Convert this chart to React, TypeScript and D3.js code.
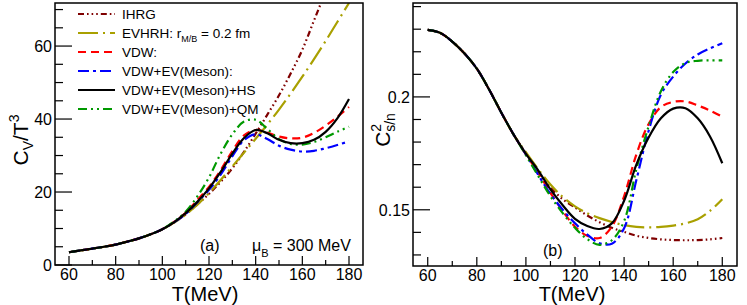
import React from "react";
import * as d3 from "d3";

// temperatures (MeV) at which curves were read
const temps = [60, 65, 70, 75, 80, 85, 90, 95, 100, 105, 110, 115, 120, 125, 130, 135, 140, 145, 150, 155, 160, 165, 170, 175, 180];

// panel (a): C_V / T^3
const cvIHRG = [3.5, 4.0, 4.5, 5.0, 5.6, 6.4, 7.3, 8.4, 9.8, 11.6, 13.9, 16.6, 19.5, 22.8, 26.5, 31.0, 36.0, 41.2, 46.5, 52.5, 59.0, 67.0, 75.0, 83.0, 91.0];
const cvEVHRH = [3.5, 4.0, 4.5, 5.0, 5.6, 6.4, 7.3, 8.4, 9.8, 11.6, 13.8, 16.5, 19.7, 23.3, 27.0, 30.8, 34.6, 38.5, 42.6, 47.0, 51.6, 56.4, 61.4, 66.6, 71.8];
const cvVDW = [3.5, 4.0, 4.5, 5.0, 5.6, 6.4, 7.3, 8.4, 9.8, 11.8, 14.3, 17.8, 21.4, 26.0, 31.2, 35.5, 37.0, 36.3, 35.2, 34.7, 34.9, 36.2, 38.2, 40.6, 43.3];
const cvEV = [3.5, 4.0, 4.5, 5.0, 5.6, 6.4, 7.3, 8.4, 9.8, 11.7, 14.0, 17.2, 20.6, 24.8, 29.8, 34.2, 35.8, 34.5, 32.7, 31.6, 31.1, 31.3, 32.0, 32.9, 33.9];
const cvHS = [3.5, 4.0, 4.5, 5.0, 5.6, 6.4, 7.3, 8.4, 9.8, 11.7, 14.2, 17.3, 21.0, 25.5, 30.5, 34.8, 37.0, 36.1, 34.3, 33.4, 33.4, 34.3, 36.5, 40.2, 45.5];
const cvQM = [3.5, 4.0, 4.5, 5.0, 5.6, 6.4, 7.3, 8.4, 9.8, 11.9, 14.6, 18.8, 24.0, 30.5, 35.8, 39.3, 39.8, 37.3, 34.5, 33.2, 33.0, 33.7, 35.0, 36.5, 37.9];

// panel (b): C^2_{s/n}
const csIHRG = [0.2297, 0.2284, 0.2245, 0.2192, 0.2125, 0.2033, 0.193, 0.1833, 0.175, 0.1665, 0.1598, 0.1547, 0.151, 0.1475, 0.1445, 0.142, 0.1402, 0.1385, 0.1375, 0.1369, 0.1366, 0.1365, 0.1366, 0.1369, 0.1375];
const csEVHRH = [0.2297, 0.2284, 0.2245, 0.2192, 0.2125, 0.2033, 0.193, 0.1833, 0.1755, 0.168, 0.1612, 0.1557, 0.1515, 0.1485, 0.1463, 0.1446, 0.1432, 0.1424, 0.1422, 0.1424, 0.143, 0.144, 0.1458, 0.1495, 0.1547];
const csVDW = [0.2297, 0.2284, 0.2245, 0.2192, 0.2125, 0.2033, 0.193, 0.1833, 0.1745, 0.1665, 0.1575, 0.1495, 0.1425, 0.1385, 0.1375, 0.1425, 0.156, 0.1745, 0.188, 0.1955, 0.1978, 0.198, 0.1962, 0.194, 0.1912];
const csEV = [0.2297, 0.2284, 0.2245, 0.2192, 0.2125, 0.2033, 0.193, 0.1833, 0.1745, 0.1655, 0.157, 0.15, 0.144, 0.139, 0.1352, 0.135, 0.1418, 0.1632, 0.185, 0.201, 0.209, 0.2148, 0.2188, 0.2215, 0.2238];
const csHS = [0.2297, 0.2284, 0.2245, 0.2192, 0.2125, 0.2033, 0.193, 0.1833, 0.1748, 0.1675, 0.159, 0.152, 0.146, 0.1428, 0.1415, 0.144, 0.154, 0.17, 0.182, 0.1905, 0.1948, 0.195, 0.1905, 0.1825, 0.1706];
const csQM = [0.2297, 0.2284, 0.2245, 0.2192, 0.2125, 0.2033, 0.193, 0.1833, 0.1742, 0.165, 0.156, 0.1485, 0.142, 0.137, 0.1345, 0.1365, 0.145, 0.168, 0.187, 0.2025, 0.211, 0.215, 0.216, 0.2162, 0.2162];

const legendLabels = ["IHRG", "EVHRH", "VDW:", "VDW+EV(Meson):", "VDW+EV(Meson)+HS", "VDW+EV(Meson)+QM"];
const xTickLabels = [60, 80, 100, 120, 140, 160, 180];
const cvTickLabels = [0, 20, 40, 60];
const csTickLabels = [0.15, 0.2];

const styles = [
  { color: "#7f0000", dash: "6,3,1.6,3,1.6,3,1.6,3" },
  { color: "#a9a000", dash: "20,5,2,5" },
  { color: "#ff0000", dash: "8,5" },
  { color: "#0000ff", dash: "11,4,3,4" },
  { color: "#000000", dash: "none" },
  { color: "#009900", dash: "9,4,2,4,2,4" },
];

const cvSeries = [cvIHRG, cvEVHRH, cvVDW, cvEV, cvHS, cvQM];
const csSeries = [csIHRG, csEVHRH, csVDW, csEV, csHS, csQM];
const drawOrder = [0, 1, 2, 3, 5, 4];

const FONT = "'Liberation Sans', Arial, Helvetica, sans-serif";

type PanelProps = {
  id: string;
  left: number; right: number; top: number; bottom: number;
  yDomain: [number, number];
  series: number[][];
  yMajor: number[];
  yMinorStep: number;
  yFormat: (v: number) => string;
};

function Panel({ id, left, right, top, bottom, yDomain, series, yMajor, yMinorStep, yFormat }: PanelProps) {
  const x = d3.scaleLinear().domain([54, 186]).range([left, right]);
  const y = d3.scaleLinear().domain(yDomain).range([bottom, top]);
  const line = d3.line<number>()
    .x((_, i) => x(temps[i]))
    .y((d) => y(d))
    .curve(d3.curveCatmullRom.alpha(0.5));

  const xMinor = d3.range(60, 181, 10);
  const yMinor = d3.range(Math.ceil(yDomain[0] / yMinorStep - 1e-6), Math.floor(yDomain[1] / yMinorStep + 1e-6) + 1).map((k) => k * yMinorStep);

  return (
    <g>
      <defs>
        <clipPath id={id}>
          <rect x={left} y={top} width={right - left} height={bottom - top} />
        </clipPath>
      </defs>
      <g clipPath={`url(#${id})`}>
        {drawOrder.map((k) => (
          <path key={k} d={line(series[k]) || ""} fill="none" stroke={styles[k].color}
            strokeWidth={2.2} strokeDasharray={styles[k].dash} />
        ))}
      </g>
      {/* x ticks (inside) */}
      {xMinor.map((t) => (
        <line key={"xm" + t} x1={x(t)} x2={x(t)} y1={bottom} y2={bottom - (t % 20 === 0 ? 9 : 5)} stroke="#000" strokeWidth={1.2} />
      ))}
      {xTickLabels.map((t) => (
        <text key={"xl" + t} x={x(t)} y={bottom + 15} textAnchor="middle" fontSize={16} fontFamily={FONT}>{t}</text>
      ))}
      {/* y ticks (inside) */}
      {yMinor.map((v) => {
        const major = yMajor.some((m) => Math.abs(m - v) < 1e-6);
        return <line key={"ym" + v} x1={left} x2={left + (major ? 17 : 8)} y1={y(v)} y2={y(v)} stroke="#000" strokeWidth={1.2} />;
      })}
      {yMajor.map((v) => (
        <text key={"yl" + v} x={left - 3} y={y(v) + 6} textAnchor="end" fontSize={16} fontFamily={FONT}>{yFormat(v)}</text>
      ))}
      <rect x={left} y={top} width={right - left} height={bottom - top} fill="none" stroke="#000" strokeWidth={1.5} />
    </g>
  );
}

export default function App() {
  const legX = 78;
  const legRows = d3.range(legendLabels.length).map((i) => 14 + i * 19);
  return (
    <svg width={747} height={305} style={{ display: "block", position: "absolute", left: 0, top: 0 }} fontFamily={FONT}>
      <rect width={747} height={305} fill="#fff" />
      <Panel id="clipA" left={55} right={363} top={3} bottom={265} yDomain={[0, 71.8]}
        series={cvSeries} yMajor={cvTickLabels} yMinorStep={5} yFormat={(v) => String(v)} />
      <Panel id="clipB" left={413} right={737} top={3} bottom={266} yDomain={[0.1251, 0.2416]}
        series={csSeries} yMajor={csTickLabels} yMinorStep={0.01} yFormat={(v) => (v === 0.2 ? "0.2" : String(v))} />

      {/* legend */}
      {legendLabels.map((lab, i) => (
        <g key={lab}>
          <line x1={legX} x2={legX + 37} y1={legRows[i]} y2={legRows[i]} stroke={styles[i].color}
            strokeWidth={2.2} strokeDasharray={styles[i].dash} />
          <text x={legX + 44} y={legRows[i] + 5} fontSize={13.5}>
            {i === 1 ? (
              <>
                {"EVHRH: r"}
                <tspan fontSize={9} dy={4}>M/B</tspan>
                <tspan dy={-4}>{" = 0.2 fm"}</tspan>
              </>
            ) : lab}
          </text>
        </g>
      ))}

      {/* annotations */}
      <text x={200} y={251} fontSize={16}>(a)</text>
      <text x={252} y={251} fontSize={16}>
        μ<tspan fontSize={11} dy={6}>B</tspan><tspan dy={-6}>{" = 300 MeV"}</tspan>
      </text>
      <text x={543} y={256} fontSize={16}>(b)</text>

      {/* axis titles */}
      <text x={205} y={301} textAnchor="middle" fontSize={20}>T(MeV)</text>
      <text x={572} y={301} textAnchor="middle" fontSize={20}>T(MeV)</text>
      <text transform="translate(28,140) rotate(-90)" textAnchor="middle" fontSize={21}>
        C<tspan fontSize={14} dy={5}>V</tspan><tspan dy={-5}>/T</tspan><tspan fontSize={14} dy={-9}>3</tspan>
      </text>
      <text transform="translate(390,130) rotate(-90)" textAnchor="middle" fontSize={21}>
        C<tspan fontSize={14} dy={-9}>2</tspan><tspan fontSize={14} dx={-8} dy={14}>s/n</tspan>
      </text>
    </svg>
  );
}
